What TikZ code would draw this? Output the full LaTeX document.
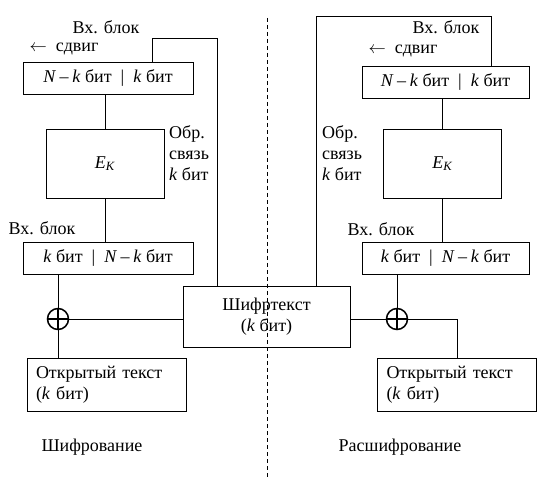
\documentclass[tikz,border=0pt]{standalone}
\usepackage{fontspec}
\setmainfont{Liberation Serif}
\usepackage{tikz}
\usetikzlibrary{positioning}
\newcommand{\bit}{~бит}
\newcommand{\ital}[1]{\textit{#1}}
\newcommand{\nk}{\ital{N}\hspace{0.2em}–\hspace{0.2em}\ital{k}\bit}

\begin{document}
\begin{tikzpicture}[
  x=1pt, y=-1pt,
  every node/.style={font=\rmfamily\fontsize{18}{21}\selectfont},
  box/.style={draw, line width=0.9pt, inner sep=0pt, align=center},
  reg/.style={box, minimum width=#1, minimum height=32pt},
  enc/.style={box, minimum width=118pt, minimum height=69pt},
  plain/.style={box, minimum width=159pt, minimum height=53pt,
    align=left, text width=141pt},
  xor/.style={circle, draw, line width=1.5pt, minimum size=21pt, inner sep=0pt,
    path picture={\draw[line width=1.5pt]
      (path picture bounding box.north) -- (path picture bounding box.south)
      (path picture bounding box.west) -- (path picture bounding box.east);}},
  lbl/.style={inner sep=0pt, align=left},
  wire/.style={line width=0.9pt}
]
\useasboundingbox (0,0) rectangle (560,497);

% encryption side
\node[reg=170pt] (topL) at (108,78) {\nk\enspace|\enspace\ital{k}\bit};
\node[enc] (encL) at (105,163.5) {\ital{E}\textsubscript{\ital{K}}};
\node[reg=170pt] (botL) at (108,258) {\ital{k}\bit\enspace|\enspace\nk};
\node[xor] (xorL) at (58,319) {};
\node[plain] (plainL) at (106.5,384.5) {Открытый текст\\(\ital{k}\bit)};
\node[box, minimum width=167pt, minimum height=61pt] (cipher) at (266.5,316.5) {Шифртекст\\(\ital{k}\bit)};

\node[lbl] (inL) at (106,27) {Вх. блок};
\node[lbl] (shL) at (64,49) {$\leftarrow$\enspace сдвиг};
\node[lbl, anchor=north west] (fbtL) at (169,125) {Обр.\\связь\\\ital{k}\bit};
\node[lbl] (in2L) at (42,228) {Вх. блок};
\node[lbl] (capL) at (92,447) {Шифрование};

% decryption side
\node[reg=167pt] (topR) at (445.5,82) {\nk\enspace|\enspace\ital{k}\bit};
\node[enc] (encR) at (442.5,163.5) {\ital{E}\textsubscript{\ital{K}}};
\node[reg=167pt] (botR) at (445.5,258) {\ital{k}\bit\enspace|\enspace\nk};
\node[xor] (xorR) at (397,319) {};
\node[plain] (plainR) at (457,384.5) {Открытый текст\\(\ital{k}\bit)};

\node[lbl] (inR) at (446,27) {Вх. блок};
\node[lbl] (shR) at (403,51) {$\leftarrow$\enspace сдвиг};
\node[lbl, anchor=north west] (fbtR) at (322,125) {Обр.\\связь\\\ital{k}\bit};
\node[lbl] (in2R) at (381,229) {Вх. блок};
\node[lbl] (capR) at (400,447) {Расшифрование};

% feedback paths
\coordinate (tapL) at (152,0);
\coordinate (fbL) at (217,38);
\coordinate (tapR) at (491,0);
\coordinate (fbR) at (316,16);

\draw[wire] (encL.north) -- (encL.north |- topL.south);
\draw[wire] (encL.south) -- (encL.south |- botL.north);
\draw[wire] (xorL.north) -- (xorL.north |- botL.south);
\draw[wire] (xorL.south) -- (xorL.south |- plainL.north);
\draw[wire] (xorL.east) -- (xorL.east -| cipher.west);
\draw[wire] (tapL |- topL.north) |- (fbL) -- (fbL |- cipher.north);

\draw[wire] (encR.north) -- (encR.north |- topR.south);
\draw[wire] (encR.south) -- (encR.south |- botR.north);
\draw[wire] (xorR.north) -- (xorR.north |- botR.south);
\draw[wire] (xorR.west -| cipher.east) -- (xorR.west);
\draw[wire] (xorR.east) -| (plainR.north);
\draw[wire] (fbR |- cipher.north) -- (fbR) -| (tapR |- topR.north);

% divider
\coordinate (divT) at (267,18);
\coordinate (divB) at (267,478);
\draw[line width=0.8pt, dash pattern=on 4pt off 3pt] (divT) -- (divB);
\end{tikzpicture}
\end{document}
